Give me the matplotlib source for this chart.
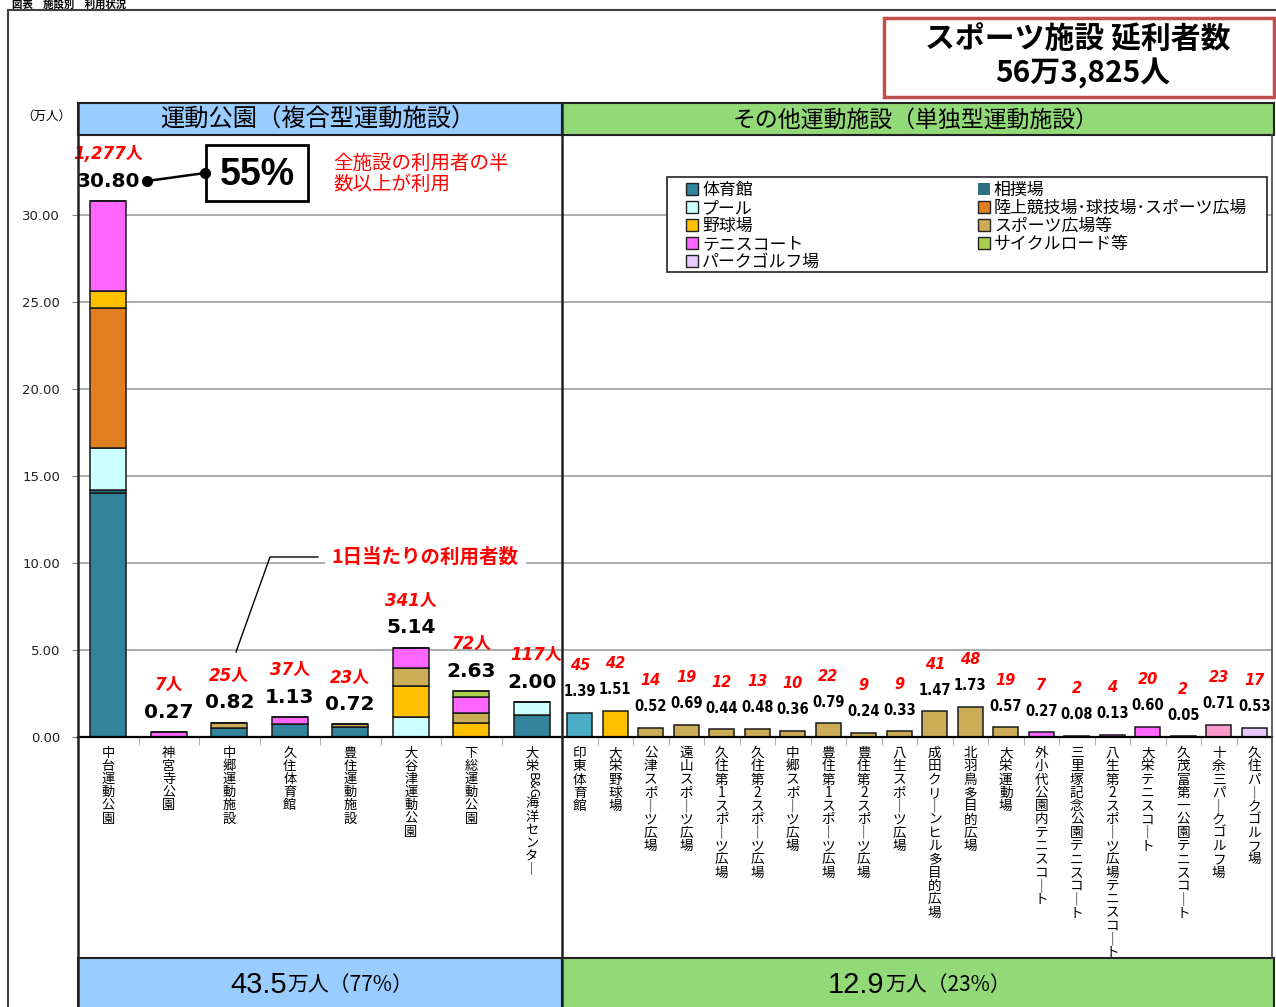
import matplotlib
matplotlib.use('Agg')
import matplotlib.pyplot as plt
import matplotlib.font_manager as fm
from matplotlib.patches import Rectangle, Patch
from matplotlib.lines import Line2D
import numpy as np
import re

plt.rcParams['font.family'] = ['Noto Sans CJK JP', 'DejaVu Sans']

# ---------------- data ----------------
park_names = ['中台運動公園', '神宮寺公園', '中郷運動施設', '久住体育館', '豊住運動施設',
              '大谷津運動公園', '下総運動公園', '大栄B&G海洋センター']
park_daily = ['1,277', '7', '25', '37', '23', '341', '72', '117']

series_names = ['体育館', '相撲場', 'プール', '陸上競技場･球技場･スポーツ広場', '野球場',
                'スポーツ広場等', 'テニスコート', 'サイクルロード等', 'パークゴルフ場']
gym      = [14.00, 0.00, 0.50, 0.76, 0.60, 0.00, 0.00, 1.25]
sumo     = [0.18, 0.00, 0.00, 0.00, 0.00, 0.00, 0.00, 0.00]
pool     = [2.41, 0.00, 0.00, 0.00, 0.00, 1.13, 0.00, 0.75]
track    = [8.05, 0.00, 0.00, 0.00, 0.00, 0.00, 0.00, 0.00]
baseball = [1.00, 0.00, 0.00, 0.00, 0.00, 1.82, 0.82, 0.00]
sports   = [0.00, 0.00, 0.32, 0.00, 0.12, 1.03, 0.54, 0.00]
tennis   = [5.16, 0.27, 0.00, 0.37, 0.00, 1.16, 0.92, 0.00]
cycle    = [0.00, 0.00, 0.00, 0.00, 0.00, 0.00, 0.35, 0.00]
pgolf    = [0.00, 0.00, 0.00, 0.00, 0.00, 0.00, 0.00, 0.00]
park_series = [gym, sumo, pool, track, baseball, sports, tennis, cycle, pgolf]

other_names = ['印東体育館', '大栄野球場', '公津スポーツ広場', '遠山スポーツ広場',
               '久住第1スポーツ広場', '久住第2スポーツ広場', '中郷スポーツ広場',
               '豊住第1スポーツ広場', '豊住第2スポーツ広場', '八生スポーツ広場',
               '成田クリーンヒル多目的広場', '北羽鳥多目的広場', '大栄運動場',
               '外小代公園内テニスコート', '三里塚記念公園テニスコート',
               '八生第2スポーツ広場テニスコート', '大栄テニスコート',
               '久茂富第一公園テニスコート', '十余三パークゴルフ場', '久住パークゴルフ場']
other_values = [1.39, 1.51, 0.52, 0.69, 0.44, 0.48, 0.36, 0.79, 0.24, 0.33,
                1.47, 1.73, 0.57, 0.27, 0.08, 0.13, 0.60, 0.05, 0.71, 0.53]
other_daily = [45, 42, 14, 19, 12, 13, 10, 22, 9, 9, 41, 48, 19, 7, 2, 4, 20, 2, 23, 17]

y_ticks = [0, 5, 10, 15, 20, 25, 30]

# ---------------- styles ----------------
series_colors = ['#31849B', '#2A6F82', '#CCFFFF', '#E07E22', '#FFC000',
                 '#CCAC56', '#FF66FF', '#A9D04E', '#E6CCFF']
other_colors = ['#4BACC6', '#FFC000'] + ['#CCAC56'] * 11 + ['#FF66FF'] * 5 + ['#FF99CC', '#E6C8FF']

W, H = 1276, 1007
fig = plt.figure(figsize=(W / 100, H / 100), dpi=100)
fig.patch.set_facecolor('white')


def fx(x):
    return x / W


def fy(y):
    return 1 - y / H


names = {f.name for f in fm.fontManager.ttflist}
if 'Liberation Sans Narrow' in names:
    NARROW = dict(family=['Liberation Sans Narrow', 'DejaVu Sans'])
    narrow_fs = 13
else:
    NARROW = dict(family=['DejaVu Sans'], stretch='condensed')
    narrow_fs = 10.5
ARIAL = ['Liberation Sans', 'DejaVu Sans']

y0_px, ytop_px = 737, 135
px_per_unit = 17.4
ymax = (y0_px - ytop_px) / px_per_unit

ax_l = fig.add_axes([fx(78), fy(y0_px), fx(562 - 78), (y0_px - ytop_px) / H])
ax_r = fig.add_axes([fx(562), fy(y0_px), fx(1272 - 562), (y0_px - ytop_px) / H])

for ax in (ax_l, ax_r):
    ax.set_ylim(0, ymax)
    ax.set_yticks(y_ticks)
    ax.grid(axis='y', color='#A6A6A6', lw=1.3)
    ax.set_axisbelow(True)
    for s in ax.spines.values():
        s.set_visible(False)
    ax.set_xticks([])
    ax.axhline(0, color='black', lw=1.6, zorder=3, clip_on=False)
    ax.patch.set_alpha(0)

ax_l.set_yticklabels([f'{v:.2f}' for v in y_ticks], family='DejaVu Sans', fontsize=9.5, color='#222222')
ax_l.tick_params(axis='y', length=4, color='#808080', pad=9)
ax_r.tick_params(axis='y', length=0, labelleft=False)

# ---- left stacked bars ----
n_l = len(park_names)
xl = np.arange(n_l)
ax_l.set_xlim(-0.5, n_l - 0.5)
bottom = np.zeros(n_l)
for vals, col in zip(park_series, series_colors):
    v = np.array(vals)
    ax_l.bar(xl, v, 0.6, bottom=bottom, color=col, edgecolor='#1a1a1a', lw=1.1, zorder=2)
    bottom += v
park_totals = bottom

for i, tot in enumerate(park_totals):
    ax_l.annotate(f'{tot:.2f}', xy=(i, tot), xytext=(0, 20), textcoords='offset pixels',
                  ha='center', va='center', fontsize=14.5, fontweight='bold', family='DejaVu Sans')
    ax_l.annotate(f'{park_daily[i]}人', xy=(i, tot), xytext=(4 if i == n_l - 1 else 0, 47),
                  textcoords='offset pixels', ha='center', va='center', fontsize=12,
                  fontweight='bold', style='italic', color='#FF0000',
                  family=['DejaVu Sans', 'Noto Sans CJK JP'])

# ---- right single bars ----
n_r = len(other_names)
xr = np.arange(n_r)
ax_r.set_xlim(-0.5, n_r - 0.5)
ax_r.bar(xr, other_values, 0.7, color=other_colors, edgecolor='#1a1a1a', lw=1.1, zorder=2)
for i, v in enumerate(other_values):
    ax_r.annotate(f'{v:.2f}', xy=(i, v), xytext=(0, 21), textcoords='offset pixels',
                  ha='center', va='center', fontsize=narrow_fs, fontweight='bold', **NARROW)
    ax_r.annotate(f'{other_daily[i]}', xy=(i, v), xytext=(0, 47), textcoords='offset pixels',
                  ha='center', va='center', fontsize=10.5, fontweight='bold', style='italic',
                  color='#FF0000', family='DejaVu Sans')

# category boundary ticks
for ax, n in ((ax_l, n_l), (ax_r, n_r)):
    ax.set_xticks(np.arange(0.5, n - 0.5, 1.0), minor=True)
    ax.tick_params(axis='x', which='minor', length=6, color='#A0A0A0', direction='out')
    ax.tick_params(axis='x', which='major', length=0)


# vertical (tategaki) category labels: CJK chars stacked, Latin runs turned sideways
def vlabel(ax, x, s, fs, step, start):
    s = s.replace('ー', '｜')
    tokens = re.findall(r'[A-Za-z&]{2,}|.', s)
    pos = start
    for tok in tokens:
        if len(tok) > 1:
            h = len(tok) * 0.62 * fs * 100 / 72
            ax.annotate(tok, xy=(x, 0), xycoords=('data', 'axes fraction'),
                        xytext=(0, -(pos - step / 2 + h / 2)), textcoords='offset pixels',
                        ha='center', va='center', fontsize=fs, rotation=-90,
                        annotation_clip=False)
            pos += h
        else:
            ax.annotate(tok, xy=(x, 0), xycoords=('data', 'axes fraction'),
                        xytext=(0, -pos), textcoords='offset pixels',
                        ha='center', va='center', fontsize=fs, annotation_clip=False)
            pos += step


for i, nm in enumerate(park_names):
    vlabel(ax_l, i, nm, 9.5, 13.2, 16)
for i, nm in enumerate(other_names):
    vlabel(ax_r, i, nm, 9.8, 13.3, 16)

# ---- legend ----
handles = [Patch(facecolor=c, edgecolor=('none' if n == '相撲場' else '#222222'), lw=1.0)
           for n, c in zip(series_names, series_colors)]
order = [0, 2, 4, 6, 8, 1, 3, 5, 7]
leg_box = Rectangle((fx(667), fy(272)), fx(1267 - 667), (272 - 177) / H, transform=fig.transFigure,
                    facecolor='white', edgecolor='#222222', lw=1.2, zorder=4, clip_on=False)
ax_r.add_patch(leg_box)
leg = ax_r.legend([handles[k] for k in order], [series_names[k] for k in order], ncol=2,
                  frameon=False, loc='upper left', bbox_to_anchor=(fx(686), fy(181)),
                  bbox_transform=fig.transFigure, borderpad=0, borderaxespad=0,
                  fontsize=12.2, handlelength=0.7, handleheight=0.7, handletextpad=0.25,
                  labelspacing=0.0, columnspacing=9.3)
leg.set_zorder(5)

# ---- frames, header and footer bands ----
def fline(xs, ys, **kw):
    fig.add_artist(Line2D([fx(x) for x in xs], [fy(y) for y in ys], transform=fig.transFigure, **kw))


def frect(x0, y0, x1, y1, **kw):
    fig.add_artist(Rectangle((fx(x0), fy(y1)), fx(x1 - x0), (y1 - y0) / H,
                             transform=fig.transFigure, **kw))


frect(78, 103, 562, 135, facecolor='#99CCFF', edgecolor='#222222', lw=1.5)
frect(562, 103, 1274, 135, facecolor='#92D978', edgecolor='#222222', lw=1.5)
frect(78, 958, 562, 1010, facecolor='#99CCFF', edgecolor='#222222', lw=1.5)
frect(562, 958, 1274, 1010, facecolor='#92D978', edgecolor='#222222', lw=1.5)
fline([78, 78], [103, 1007], color='#222222', lw=1.8)
fline([562, 562], [103, 1007], color='#222222', lw=1.8)
fline([1272, 1272], [135, 958], color='#444444', lw=1.2)
fline([8, 8], [10, 1007], color='#404040', lw=1.5)
fline([8, 1276], [10, 10], color='#404040', lw=1.5)

fig.text(fx(12), fy(5), '図表　施設別　利用状況', ha='left', va='center', fontsize=7.5, fontweight='bold')

fig.text(fx(318), fy(120), '運動公園（複合型運動施設）', ha='center', va='center', fontsize=17.5)
fig.text(fx(916), fy(120), 'その他運動施設（単独型運動施設）', ha='center', va='center', fontsize=16.5)
fig.text(fx(46), fy(116), '（万人）', ha='center', va='center', fontsize=9)

# footer totals
t1 = fig.text(fx(230), fy(985), '43.5', ha='left', va='center', fontsize=21, family=ARIAL)
fig.add_artist(plt.Annotation('万人（77%）', xy=(1, 0.5), xycoords=t1, xytext=(1, 0),
                              textcoords='offset pixels', ha='left', va='center', fontsize=15))
t2 = fig.text(fx(828), fy(985), '12.9', ha='left', va='center', fontsize=21, family=ARIAL)
fig.add_artist(plt.Annotation('万人（23%）', xy=(1, 0.5), xycoords=t2, xytext=(1, 0),
                              textcoords='offset pixels', ha='left', va='center', fontsize=15))

# total box
frect(884, 18, 1274, 97, facecolor='white', edgecolor='#C0504D', lw=2.5)
fig.text(fx(1078), fy(39), 'スポーツ施設 延利者数', ha='center', va='center', fontsize=21.5, fontweight='bold')
fig.text(fx(1083), fy(73), '56万3,825人', ha='center', va='center', fontsize=21.5, fontweight='bold')

# 55% callout
frect(206, 145, 308, 201, facecolor='white', edgecolor='black', lw=2)
fig.text(fx(257), fy(175), '55%', ha='center', va='center', fontsize=27, fontweight='bold', family=ARIAL)
fline([147, 205], [181, 173], color='black', lw=1.8, marker='o', markersize=7)
fig.text(fx(333), fy(163), '全施設の利用者の半', ha='left', va='center', fontsize=14, color='#FF0000')
fig.text(fx(333), fy(184), '数以上が利用', ha='left', va='center', fontsize=14, color='#FF0000')

# daily annotation
fig.text(fx(425), fy(557), '1日当たりの利用者数', ha='center', va='center', fontsize=14,
         fontweight='bold', style='italic', color='#FF0000',
         bbox=dict(facecolor='white', edgecolor='none', pad=5))
fline([318, 270, 236], [557, 557, 652], color='black', lw=1.0)

fig.savefig('out.png', dpi=100)
